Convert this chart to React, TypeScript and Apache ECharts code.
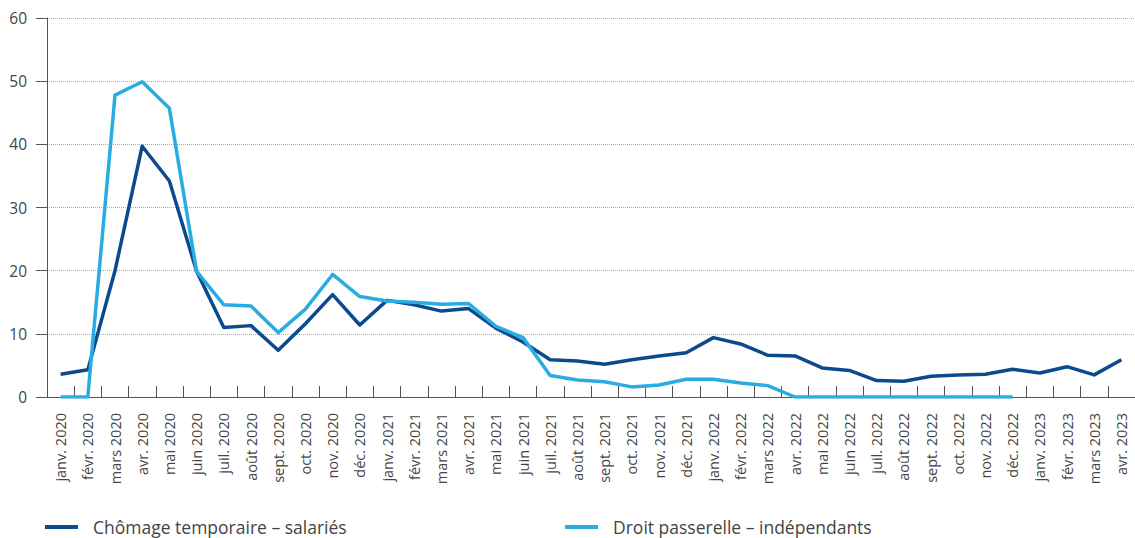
import React, { useEffect, useRef } from "react";
import * as echarts from "echarts";

const months = [
  "janv. 2020", "févr. 2020", "mars 2020", "avr. 2020", "mai 2020", "juin 2020",
  "juil. 2020", "août 2020", "sept. 2020", "oct. 2020", "nov. 2020", "déc. 2020",
  "janv. 2021", "févr. 2021", "mars 2021", "avr. 2021", "mai 2021", "juin 2021",
  "juil. 2021", "août 2021", "sept. 2021", "oct. 2021", "nov. 2021", "déc. 2021",
  "janv. 2022", "févr. 2022", "mars 2022", "avr. 2022", "mai 2022", "juin 2022",
  "juil. 2022", "août 2022", "sept. 2022", "oct. 2022", "nov. 2022", "déc. 2022",
  "janv. 2023", "févr. 2023", "mars 2023", "avr. 2023",
];

const salaries = [
  3.6, 4.3, 20.0, 39.7, 34.2, 19.9, 11.0, 11.3, 7.4, 11.6, 16.2, 11.4,
  15.3, 14.6, 13.6, 14.0, 10.9, 8.7, 5.9, 5.7, 5.2, 5.9, 6.5, 7.0,
  9.4, 8.4, 6.6, 6.5, 4.6, 4.2, 2.6, 2.5, 3.3, 3.5, 3.6, 4.4,
  3.8, 4.8, 3.5, 5.9,
];

const independants: (number | null)[] = [
  0, 0, 47.8, 49.9, 45.7, 19.9, 14.6, 14.4, 10.2, 13.9, 19.4, 15.9,
  15.2, 15.0, 14.7, 14.8, 11.2, 9.4, 3.4, 2.7, 2.4, 1.6, 1.9, 2.8,
  2.8, 2.2, 1.8, 0, 0, 0, 0, 0, 0, 0, 0, 0,
  null, null, null, null,
];

const seriesNames = ["Chômage temporaire – salariés", "Droit passerelle – indépendants"];
const colors = ["#0b4a8d", "#29ace3"];

export default function App() {
  const ref = useRef<HTMLDivElement>(null);
  useEffect(() => {
    if (!ref.current) return;
    const chart = echarts.init(ref.current, null, { renderer: "svg" });
    const font = "'Open Sans', 'Noto Sans', sans-serif";
    const legendText = { fontSize: 17.5, color: "#444", fontFamily: font, padding: [0, 0, 0, 10] };
    chart.setOption({
      animation: false,
      textStyle: { fontFamily: font },
      grid: { left: 47, top: 18, width: 1093, height: 379, containLabel: false },
      legend: [
        {
          data: [seriesNames[0]],
          left: 40,
          top: 513,
          icon: "rect",
          itemWidth: 33,
          itemHeight: 4,
          textStyle: legendText,
        },
        {
          data: [seriesNames[1]],
          left: 560,
          top: 513,
          icon: "rect",
          itemWidth: 33,
          itemHeight: 4,
          textStyle: legendText,
        },
      ],
      xAxis: {
        type: "category",
        data: months,
        boundaryGap: true,
        axisLine: { lineStyle: { color: "#555", width: 1 } },
        axisTick: { show: true, inside: true, length: 11, lineStyle: { color: "#555" } },
        axisLabel: {
          rotate: 90,
          interval: 0,
          margin: 16,
          fontSize: 14.5,
          color: "#444",
          fontFamily: font,
        },
        splitLine: { show: false },
      },
      yAxis: {
        type: "value",
        min: 0,
        max: 60,
        interval: 10,
        axisLine: { show: true, lineStyle: { color: "#555", width: 1 } },
        axisTick: { show: true, inside: false, length: 11, lineStyle: { color: "#555" } },
        axisLabel: { margin: 20, fontSize: 15.5, color: "#444", fontFamily: font },
        splitLine: { show: true, lineStyle: { type: "dotted", color: "#aaa", width: 1 } },
      },
      series: [
        {
          name: seriesNames[0],
          type: "line",
          data: salaries,
          showSymbol: false,
          symbol: "none",
          color: colors[0],
          lineStyle: { color: colors[0], width: 3.5, join: "round" },
          z: 2,
        },
        {
          name: seriesNames[1],
          type: "line",
          data: independants,
          showSymbol: false,
          symbol: "none",
          color: colors[1],
          lineStyle: { color: colors[1], width: 3.5, join: "round" },
          z: 3,
        },
      ],
    });
    return () => chart.dispose();
  }, []);
  return (
    <div
      ref={ref}
      style={{ position: "fixed", left: 0, top: 0, width: 1135, height: 538, background: "#fff" }}
    />
  );
}
